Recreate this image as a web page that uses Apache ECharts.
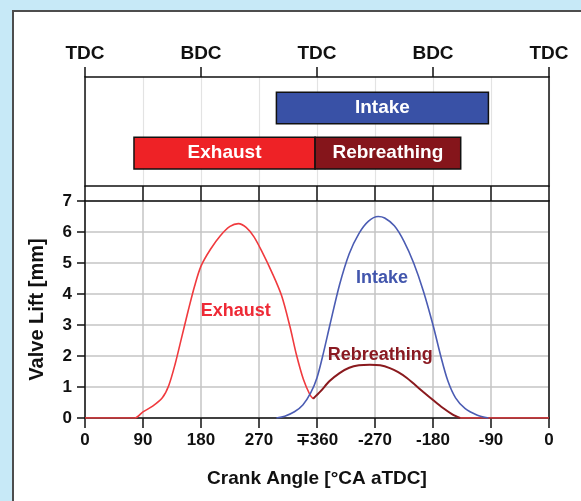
<!DOCTYPE html>
<html>
<head>
<meta charset="utf-8">
<script src="https://cdn.jsdelivr.net/npm/echarts@6/dist/echarts.min.js"></script>
<style>
  html, body { margin: 0; padding: 0; background: #c7e9f7; }
  #main { width: 581px; height: 501px; }
</style>
</head>
<body>
<div id="main"></div>
<script>
// valve timing bars (crank angle, deg)
const eventNames = ['Intake', 'Exhaust', 'Rebreathing'];
const eventStart = [297, 76, 357];
const eventEnd = [626, 357, 583];
const eventRow = [1, 0, 0];
const eventColors = ['#3951a6', '#ee2226', '#85151b'];

// tick labels
const topLabels = ['TDC', 'BDC', 'TDC', 'BDC', 'TDC'];
const angleLabels = ['0', '90', '180', '270', '\u2213360', '-270', '-180', '-90', '0'];

// lift curves
const exhaustAngle = [0, 77, 90, 105, 120, 130, 140, 150, 160, 170, 180, 195, 210, 225, 238, 250, 262, 275, 290, 305, 318, 328, 339, 349, 354, null, 582, 720];
const exhaustLift = [0, 0, 0.2, 0.38, 0.65, 1.05, 1.75, 2.6, 3.45, 4.25, 4.9, 5.45, 5.88, 6.18, 6.27, 6.15, 5.85, 5.35, 4.7, 3.95, 2.95, 2.05, 1.24, 0.75, 0.62, null, 0, 0];

const rebreathAngle = [354, 365, 380, 395, 410, 425, 442, 458, 473, 486, 499, 512, 525, 540, 555, 570, 582];
const rebreathLift = [0.62, 0.85, 1.2, 1.45, 1.62, 1.7, 1.72, 1.7, 1.61, 1.48, 1.3, 1.07, 0.84, 0.58, 0.33, 0.12, 0];

const intakeAngle = [297, 310, 325, 338, 350, 360, 370, 380, 395, 410, 425, 440, 455, 465, 480, 495, 510, 525, 540, 552, 563, 575, 590, 608, 626];
const intakeLift = [0, 0.06, 0.2, 0.42, 0.8, 1.3, 2.1, 3.0, 4.3, 5.3, 5.95, 6.35, 6.5, 6.45, 6.2, 5.7, 5.0, 4.1, 3.0, 2.0, 1.2, 0.65, 0.3, 0.1, 0];

// curve label anchors [angle, lift]
const labelNames = ['Exhaust', 'Intake', 'Rebreathing'];
const labelAngle = [234, 461, 458];
const labelLift = [3.46, 4.5, 2.04];

const FONT = '"Liberation Sans", Arial, sans-serif';

function pairs(xs, ys) {
    return xs.map(function (x, i) { return x === null ? [null, null] : [x, ys[i]]; });
}

function curveLabel(i, color) {
    return {
        symbol: 'circle',
        symbolSize: 0,
        silent: true,
        label: {
            show: true, position: 'inside', formatter: labelNames[i],
            color: color, fontFamily: FONT, fontWeight: 'bold', fontSize: 18
        },
        data: [{ coord: [labelAngle[i], labelLift[i]] }]
    };
}

let chart = echarts.init(document.getElementById('main'));

let axisLine = { show: true, onZero: false, lineStyle: { color: '#111', width: 1.5 } };
let tickStyle = { color: '#111', width: 1.5 };

let option = {
    backgroundColor: '#c7e9f7',
    animation: false,
    graphic: [{
        type: 'rect', z: -100,
        shape: { x: 13, y: 11, width: 620, height: 560 },
        style: { fill: '#ffffff', stroke: '#4d4d4d', lineWidth: 2 }
    }],
    grid: [
        { left: 85, top: 77, width: 464, height: 109 },
        { left: 85, top: 201, width: 464, height: 217 }
    ],
    xAxis: [
        {
            gridIndex: 0, type: 'value', position: 'bottom', min: 0, max: 720, interval: 90,
            axisLine: axisLine,
            axisTick: { show: true, inside: false, length: 11, lineStyle: tickStyle },
            axisLabel: { show: false },
            splitLine: { show: true, lineStyle: { color: '#e3e3e3', width: 1.2 } }
        },
        {
            gridIndex: 0, type: 'value', position: 'top', min: 0, max: 720, interval: 180,
            axisLine: axisLine,
            axisTick: { show: true, inside: false, length: 10, lineStyle: tickStyle },
            axisLabel: {
                margin: 14, color: '#111', fontFamily: FONT, fontWeight: 'bold', fontSize: 19,
                formatter: function (v) { return topLabels[Math.round(v / 180)]; }
            },
            splitLine: { show: false }
        },
        {
            gridIndex: 1, type: 'value', position: 'bottom', min: 0, max: 720, interval: 90,
            name: 'Crank Angle [\u00b0CA aTDC]', nameLocation: 'middle', nameGap: 51,
            nameTextStyle: { color: '#111', fontFamily: FONT, fontWeight: 'bold', fontSize: 19 },
            axisLine: axisLine,
            axisTick: { show: true, inside: false, length: 10, lineStyle: tickStyle },
            axisLabel: {
                margin: 14, color: '#111', fontFamily: FONT, fontWeight: 'bold', fontSize: 17,
                formatter: function (v) { return angleLabels[Math.round(v / 90)]; }
            },
            splitLine: { show: true, lineStyle: { color: '#c4c4c4', width: 1.5 } }
        },
        {
            gridIndex: 1, type: 'value', position: 'top', min: 0, max: 720, interval: 90,
            axisLine: axisLine,
            axisTick: { show: true, inside: false, length: 11, lineStyle: tickStyle },
            axisLabel: { show: false },
            splitLine: { show: false }
        }
    ],
    yAxis: [
        {
            gridIndex: 0, type: 'value', position: 'left', min: -0.73, max: 1.69,
            axisLine: axisLine, axisTick: { show: false }, axisLabel: { show: false },
            splitLine: { show: false }
        },
        {
            gridIndex: 0, type: 'value', position: 'right', min: -0.73, max: 1.69,
            axisLine: axisLine, axisTick: { show: false }, axisLabel: { show: false },
            splitLine: { show: false }
        },
        {
            gridIndex: 1, type: 'value', position: 'left', min: 0, max: 7, interval: 1,
            name: 'Valve Lift [mm]', nameLocation: 'middle', nameGap: 38,
            nameTextStyle: { color: '#111', fontFamily: FONT, fontWeight: 'bold', fontSize: 20 },
            axisLine: axisLine,
            axisTick: { show: true, inside: false, length: 8, lineStyle: tickStyle },
            axisLabel: { margin: 13, color: '#111', fontFamily: FONT, fontWeight: 'bold', fontSize: 17 },
            splitLine: { show: true, lineStyle: { color: '#c4c4c4', width: 1.5 } }
        },
        {
            gridIndex: 1, type: 'value', position: 'right', min: 0, max: 7, interval: 1,
            axisLine: axisLine, axisTick: { show: false }, axisLabel: { show: false },
            splitLine: { show: false }
        }
    ],
    series: [
        {
            type: 'custom',
            xAxisIndex: 0, yAxisIndex: 0,
            data: eventNames.map(function (n, i) { return [eventStart[i], eventEnd[i], eventRow[i], i]; }),
            renderItem: function (params, api) {
                let i = api.value(3);
                let p0 = api.coord([api.value(0), api.value(2)]);
                let p1 = api.coord([api.value(1), api.value(2)]);
                let h = api.size([0, 0.7])[1];
                return {
                    type: 'rect',
                    shape: { x: p0[0], y: p0[1] - h / 2, width: p1[0] - p0[0], height: h },
                    style: { fill: eventColors[i], stroke: '#111', lineWidth: 1.5 },
                    textContent: {
                        style: {
                            text: eventNames[i], fill: '#fff',
                            font: 'bold 19px ' + FONT
                        }
                    },
                    textConfig: { position: 'inside' }
                };
            }
        },
        {
            type: 'line', name: 'Exhaust', xAxisIndex: 2, yAxisIndex: 2,
            data: pairs(exhaustAngle, exhaustLift),
            showSymbol: false, smooth: 0.3, connectNulls: false,
            lineStyle: { color: '#f03a3e', width: 1.6 },
            markPoint: curveLabel(0, '#ee2a36')
        },
        {
            type: 'line', name: 'Rebreathing', xAxisIndex: 2, yAxisIndex: 2,
            data: pairs(rebreathAngle, rebreathLift),
            showSymbol: false, smooth: 0.3,
            lineStyle: { color: '#8a1a1e', width: 2 },
            markPoint: curveLabel(2, '#8a1a22')
        },
        {
            type: 'line', name: 'Intake', xAxisIndex: 2, yAxisIndex: 2,
            data: pairs(intakeAngle, intakeLift),
            showSymbol: false, smooth: 0.3,
            lineStyle: { color: '#4b5cb3', width: 1.6 },
            markPoint: curveLabel(1, '#4256ad')
        }
    ]
};

chart.setOption(option);
</script>
</body>
</html>
